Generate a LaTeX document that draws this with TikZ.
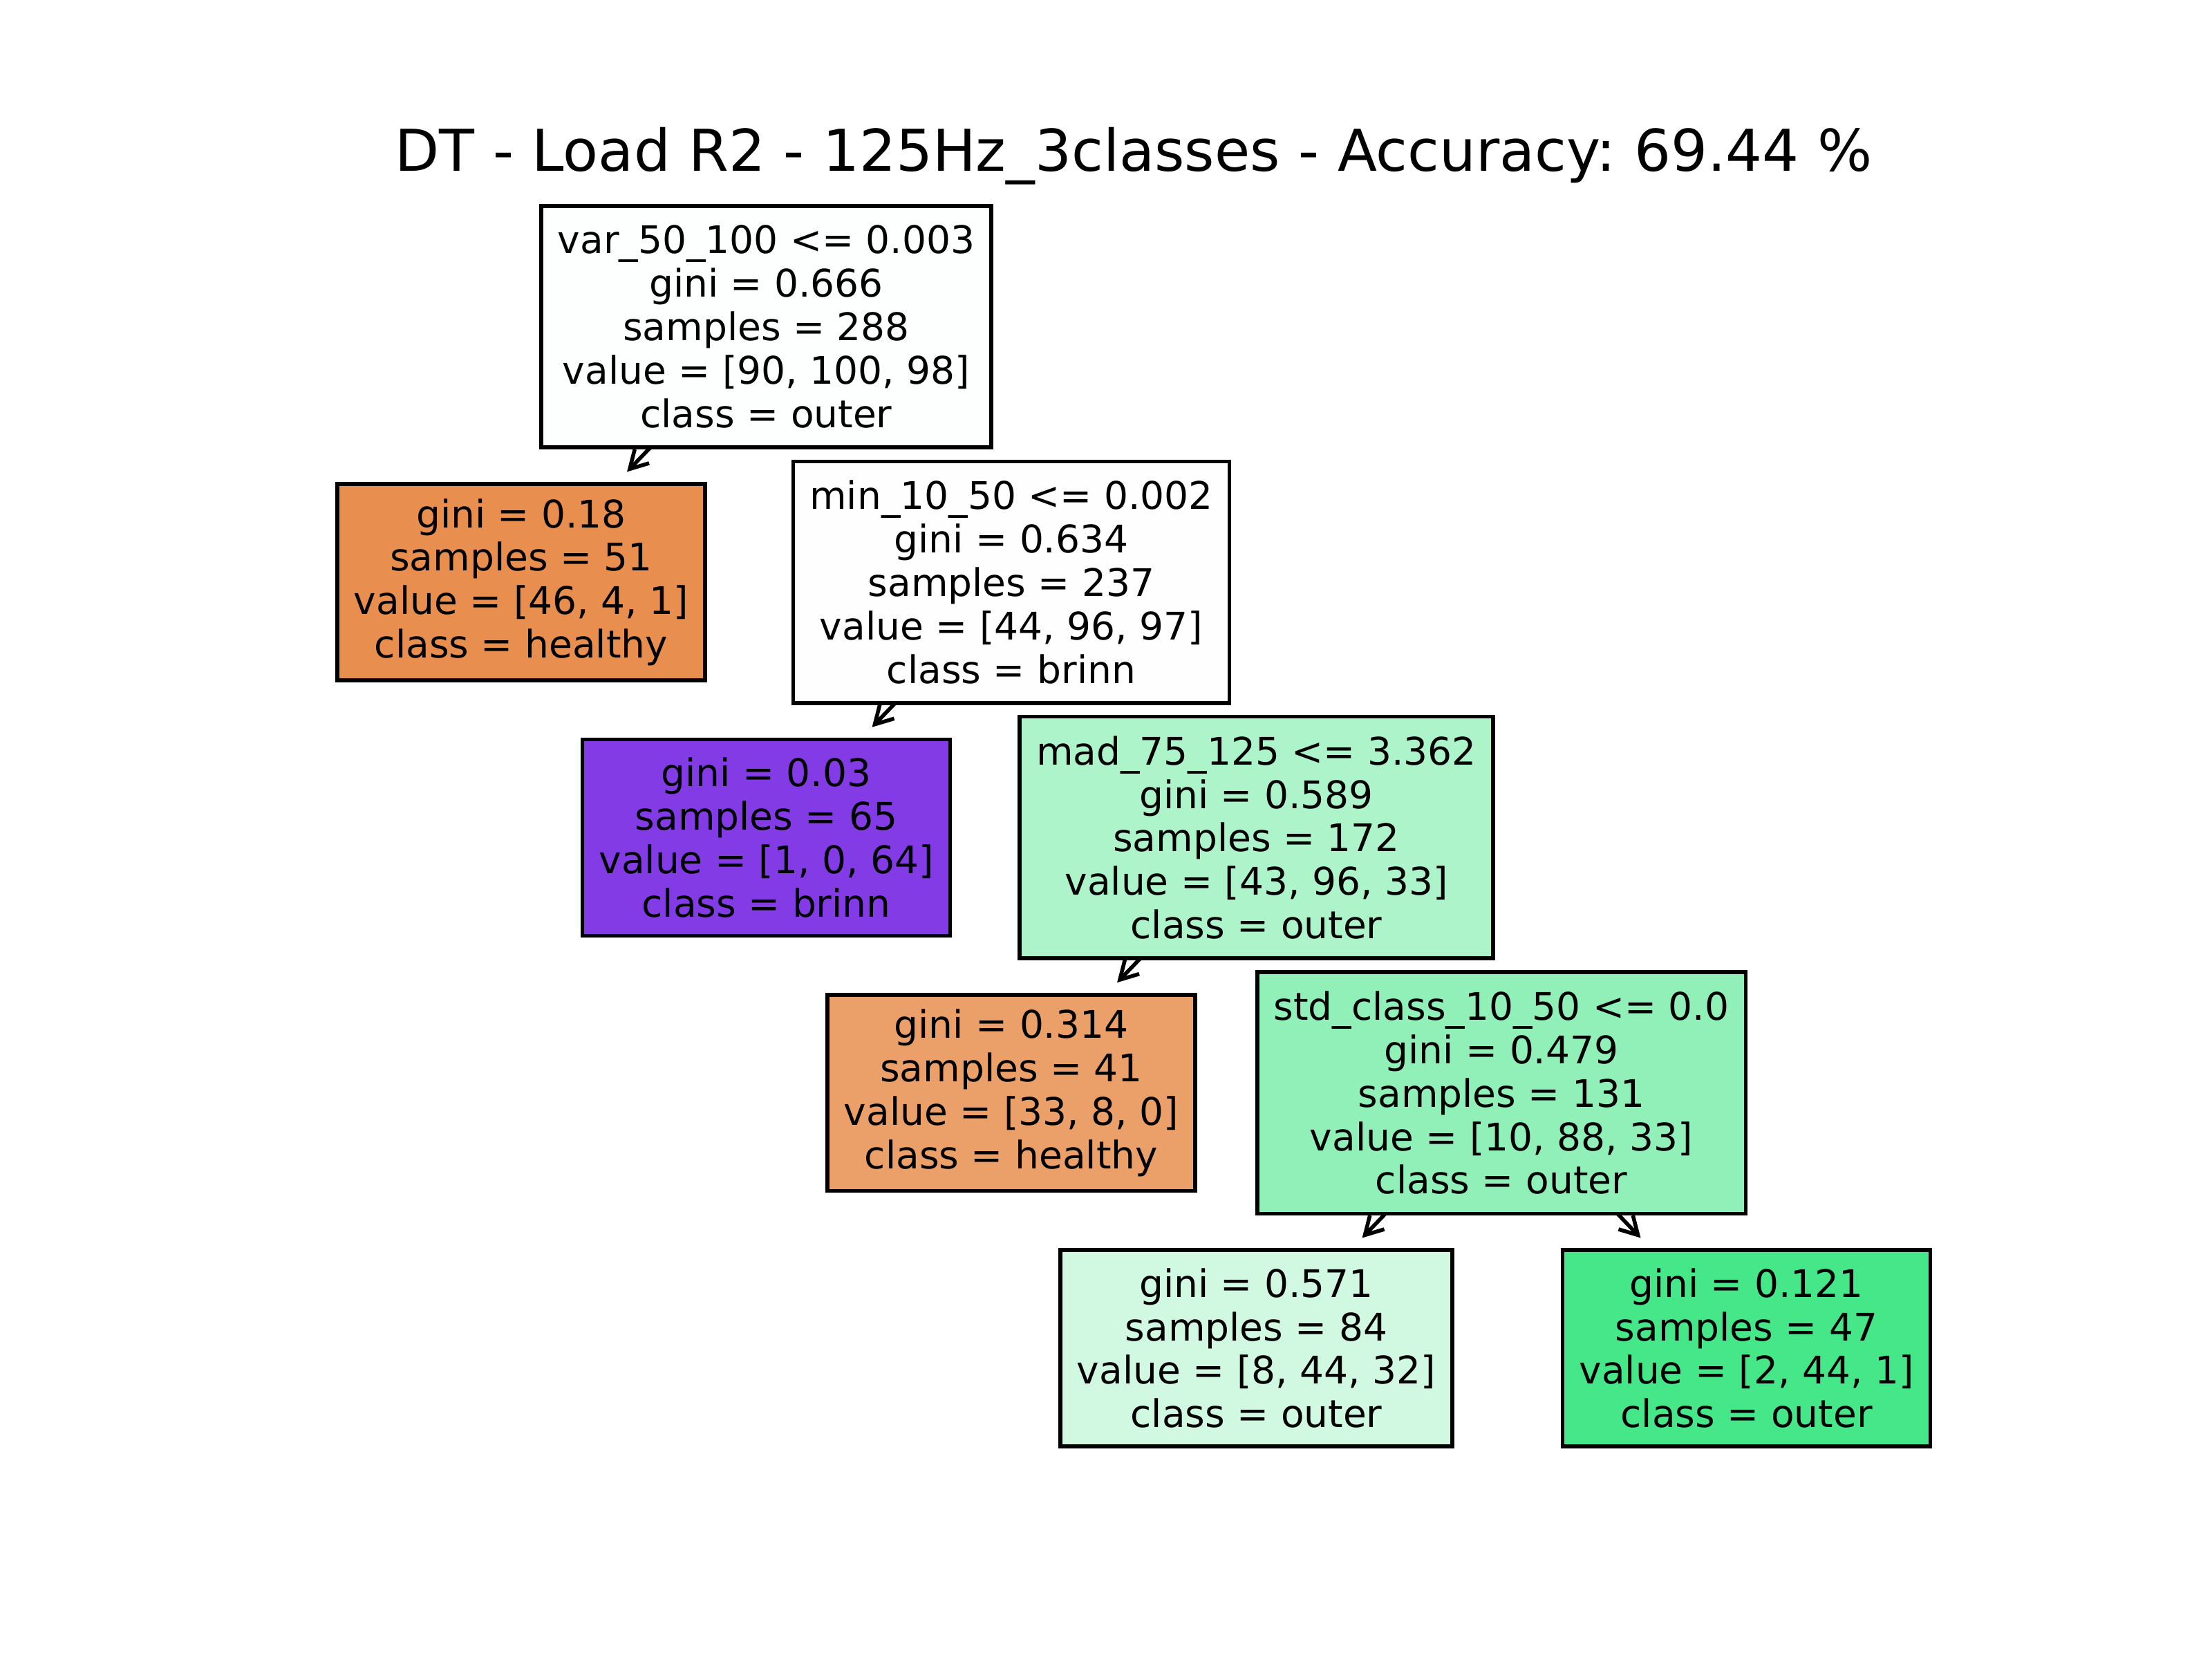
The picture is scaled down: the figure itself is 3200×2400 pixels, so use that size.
\documentclass[tikz,border=0pt]{standalone}
\usepackage{fontspec}
\setmainfont{DejaVu Sans}
\usetikzlibrary{arrows.meta}
\pgfdeclarelayer{background}
\pgfsetlayers{background,main}
\frenchspacing

\definecolor{rootfill}{RGB}{253,255,254}
\definecolor{healthyA}{RGB}{232,142,78}
\definecolor{minfill}{RGB}{254,254,255}
\definecolor{brinnfill}{RGB}{131,60,229}
\definecolor{madfill}{RGB}{174,244,203}
\definecolor{healthyB}{RGB}{235,160,105}
\definecolor{stdfill}{RGB}{144,240,184}
\definecolor{outerA}{RGB}{209,249,226}
\definecolor{outerB}{RGB}{70,231,137}

\begin{document}
\begin{tikzpicture}[x=0.18pt,y=-0.18pt,
  box/.style={draw=black,line width=1pt,align=center,inner xsep=4.3pt,inner ysep=0pt,
              font=\fontsize{9.9}{11.3}\selectfont},
  split/.style={box,minimum height=62.9pt},
  leaf/.style={box,minimum height=51.1pt},
  edge/.style={line width=1pt,-{Straight Barb[length=4.6pt,width=5.2pt]},shorten >=3.7pt}]

  \useasboundingbox (0,0) rectangle (3200,2400);

  \node[anchor=base,font=\fontsize{15}{18}\selectfont] (title) at (1640,247)
        {DT - Load R2 - 125Hz\_3classes - Accuracy: 69.44 \%};

  % level 0
  \node[split,fill=rootfill] (root) at (1108.5,472.5)
        {var\_50\_100 <= 0.003\\gini = 0.666\\samples = 288\\value = [90, 100, 98]\\class = outer};

  % level 1
  \node[leaf,fill=healthyA] (hA) at (754,842)
        {gini = 0.18\\samples = 51\\value = [46, 4, 1]\\class = healthy};
  \node[split,fill=minfill] (minN) at (1463,842)
        {min\_10\_50 <= 0.002\\gini = 0.634\\samples = 237\\value = [44, 96, 97]\\class = brinn};

  % level 2
  \node[leaf,fill=brinnfill] (brinnL) at (1108.5,1211.3)
        {gini = 0.03\\samples = 65\\value = [1, 0, 64]\\class = brinn};
  \node[split,fill=madfill] (madN) at (1817.5,1211.3)
        {mad\_75\_125 <= 3.362\\gini = 0.589\\samples = 172\\value = [43, 96, 33]\\class = outer};

  % level 3
  \node[leaf,fill=healthyB] (hB) at (1463,1580.7)
        {gini = 0.314\\samples = 41\\value = [33, 8, 0]\\class = healthy};
  \node[split,fill=stdfill] (stdN) at (2172,1580.7)
        {std\_class\_10\_50 <= 0.0\\gini = 0.479\\samples = 131\\value = [10, 88, 33]\\class = outer};

  % level 4
  \node[leaf,fill=outerA] (oA) at (1817.5,1950)
        {gini = 0.571\\samples = 84\\value = [8, 44, 32]\\class = outer};
  \node[leaf,fill=outerB] (oB) at (2526.5,1950)
        {gini = 0.121\\samples = 47\\value = [2, 44, 1]\\class = outer};

  \begin{pgfonlayer}{background}
    \draw[edge] (root.center) -- (hA);
    \draw[edge] (root.center) -- (minN);
    \draw[edge] (minN.center) -- (brinnL);
    \draw[edge] (minN.center) -- (madN);
    \draw[edge] (madN.center) -- (hB);
    \draw[edge] (madN.center) -- (stdN);
    \draw[edge] (stdN.center) -- (oA);
    \draw[edge] (stdN.center) -- (oB);
  \end{pgfonlayer}

\end{tikzpicture}
\end{document}
